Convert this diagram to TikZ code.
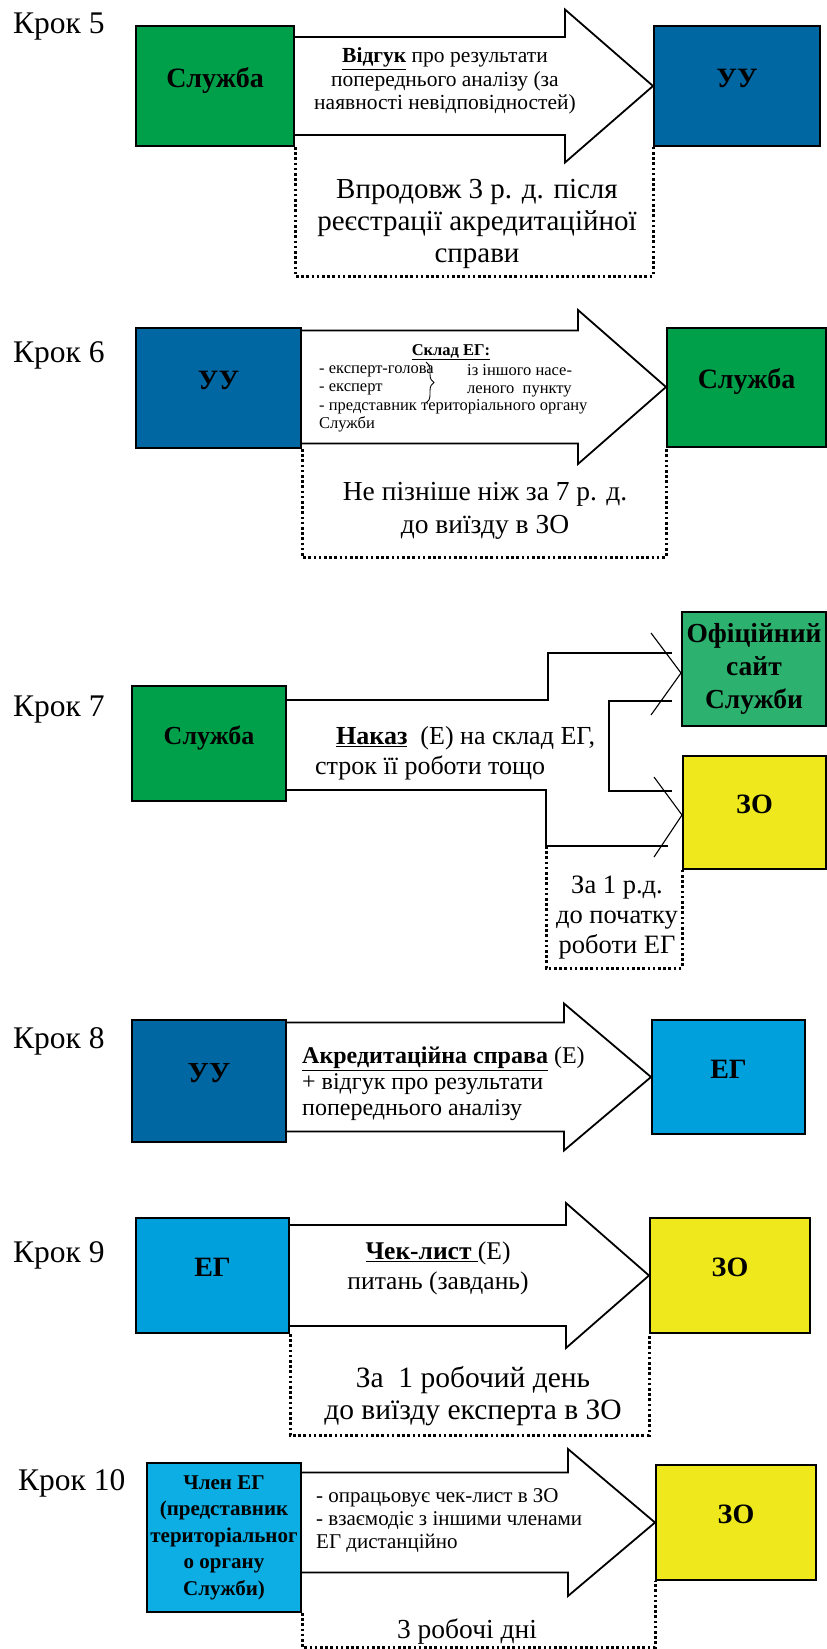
\documentclass[tikz,border=0pt]{standalone}
\usepackage{fontspec}
\setmainfont{Liberation Serif}
\usepackage{tikz}
\usetikzlibrary{calc,decorations.pathreplacing}

\definecolor{grn}{RGB}{0,160,75}
\definecolor{grnsite}{RGB}{44,178,110}
\definecolor{dblue}{RGB}{0,103,163}
\definecolor{lblue}{RGB}{0,160,221}
\definecolor{cblue}{RGB}{12,174,228}
\definecolor{yel}{RGB}{238,232,28}

\newcommand\fs[2]{\fontsize{#1}{#2}\selectfont}
\newcommand\bigarrow[5]{%
  \draw[arrowbody] ($(#1.east |- #2.west)+(0,-#3)$) -- ($(#2.west)+(-#5,-#3)$)
    -- ($(#2.west)+(-#5,-#4)$) -- (#2.west) -- ($(#2.west)+(-#5,#4)$)
    -- ($(#2.west)+(-#5,#3)$) -- ($(#1.east |- #2.west)+(0,#3)$);}

\begin{document}
\begin{tikzpicture}[x=1pt,y=-1pt,
  box/.style={draw=black,line width=2pt,font=\fs{28}{32}\bfseries},
  lbl/.style={text height=18pt,text depth=16pt},
  krok/.style={anchor=base west,inner sep=0pt,font=\fs{31.5}{36}},
  arrowbody/.style={draw=black,line width=1.8pt,line join=miter},
  thin/.style={draw=black,line width=1.1pt},
  dotline/.style={line width=3pt,dash pattern=on 2.6pt off 2.6pt},
  txt/.style={align=center,inner sep=0pt}]
  \useasboundingbox (0,0) rectangle (827,1649);

  \draw (13,33) node[krok] (k5) {Крок 5};
  \draw (215,86) node[box,lbl,fill=grn,minimum width=158pt,minimum height=120pt] (sl5) {Служба};
  \draw (737,86) node[box,lbl,fill=dblue,minimum width=166pt,minimum height=120pt] (uu5) {УУ};
  \bigarrow{sl5}{uu5}{49}{76.5}{88}
  \draw (445,81) node[txt,font=\fs{21.5}{23.5}] (t5) {\textbf{\underline{Відгук}} про результати\\попереднього аналізу (за\\наявності невідповідностей)};
  \coordinate (d5) at (0,276);
  \draw[dotline] (sl5.south east) -- (sl5.south east |- d5) -| (uu5.south west);
  \draw (477,224) node[txt,font=\fs{29}{32}] (w5) {Впродовж 3 р. д. після\\реєстрації акредитаційної\\справи};

  \draw (13,362) node[krok] (k6) {Крок 6};
  \draw (218.5,388) node[box,lbl,fill=dblue,minimum width=165pt,minimum height=120pt] (uu6) {УУ};
  \draw (746.5,387) node[box,lbl,fill=grn,minimum width=159pt,minimum height=119pt] (sl6) {Служба};
  \bigarrow{uu6}{sl6}{56.5}{77}{88}
  \draw (451,352) node[txt,font=\fs{16.5}{18.5}\bfseries] (sk6) {\underline{Склад ЕГ:}};
  \draw (319,399) node[txt,align=left,anchor=west,font=\fs{16.5}{18.5}] (ls6) {- експерт-голова\\- експерт\\- представник територіального органу\\Служби};
  \draw (467,381) node[txt,align=left,anchor=west,font=\fs{16.5}{18.5}] (np6) {із іншого насе-\\леного\ \ пункту};
  \draw[thin,line width=0.9pt,decorate,decoration={brace,amplitude=8pt}] (426,362) -- (426,403);
  \coordinate (d6) at (0,557);
  \draw[dotline] (uu6.south east) -- (uu6.south east |- d6) -| (sl6.south west);
  \draw (485,511) node[txt,font=\fs{27.5}{33}] (w6) {Не пізніше ніж за 7 р. д.\\до виїзду в ЗО};

  \draw (13,716) node[krok] (k7) {Крок 7};
  \draw (209,743.5) node[box,lbl,fill=grn,font=\fs{26}{30}\bfseries,minimum width=154pt,minimum height=115pt] (sl7) {Служба};
  \draw (754,669) node[box,fill=grnsite,align=center,inner sep=1pt,font=\fs{27.5}{33}\bfseries,minimum width=144pt,minimum height=114pt] (site) {Офіційний\\сайт\\Служби};
  \draw (754.5,812.5) node[box,lbl,fill=yel,minimum width=143pt,minimum height=113pt] (zo7) {ЗО};
  \coordinate (fl) at (546,846);
  \draw[thin] (sl7.east |- 0,700) -| (548,653) -- (672,653);
  \draw[thin] (672,701) -| (609,791) -- (672,791);
  \draw[thin] (sl7.east |- 0,790) -| (fl) -- (668,846);
  \draw[thin] (651,633) -- (site.west |- 0,673) -- (651,715);
  \draw[thin] (654,777) -- (zo7.west |- 0,815) -- (654,857);
  \draw (315,753) node[txt,align=left,anchor=west,font=\fs{26}{30}] (t7) {\hspace*{21pt}\textbf{\underline{Наказ}}\ \ (Е) на склад ЕГ,\\строк її роботи тощо};
  \coordinate (d7) at (0,968);
  \draw[dotline] (fl) -- (fl |- d7) -| (zo7.south west);
  \draw (617,918) node[txt,font=\fs{26.5}{30}] (w7) {За 1 р.д.\\до початку\\роботи ЕГ};

  \draw (13,1048) node[krok] (k8) {Крок 8};
  \draw (209,1081) node[box,lbl,fill=dblue,font=\fs{29}{32}\bfseries,minimum width=154pt,minimum height=122pt] (uu8) {УУ};
  \draw (728.5,1077) node[box,lbl,fill=lblue,minimum width=153pt,minimum height=114pt] (eg8) {ЕГ};
  \bigarrow{uu8}{eg8}{54.5}{73.5}{87}
  \draw (302,1084) node[txt,align=left,anchor=west,font=\fs{24}{26}] (t8) {\textbf{\underline{Акредитаційна справа}} (Е)\\+ відгук про результати\\попереднього аналізу};

  \draw (13,1262) node[krok] (k9) {Крок 9};
  \draw (212.5,1275.5) node[box,lbl,fill=lblue,minimum width=153pt,minimum height=115pt] (eg9) {ЕГ};
  \draw (730,1275.5) node[box,lbl,fill=yel,minimum width=160pt,minimum height=115pt] (zo9) {ЗО};
  \bigarrow{eg9}{zo9}{50.5}{72.5}{83}
  \draw (438,1268) node[txt,font=\fs{25.5}{30}] (t9) {\textbf{\underline{Чек-лист }}(Е)\\питань (завдань)};
  \coordinate (d9) at (0,1435);
  \draw[dotline] (eg9.south east) -- (eg9.south east |- d9) -| (zo9.south west);
  \draw (473,1396) node[txt,font=\fs{29.5}{32}] (w9) {За\ \ 1 робочий день\\до виїзду експерта в ЗО};

  \draw (18,1490) node[krok] (k10) {Крок 10};
  \draw (224,1537.5) node[box,fill=cblue,align=center,inner sep=1pt,font=\fs{21}{26.5}\bfseries,minimum width=154pt,minimum height=149pt] (ch10) {Член ЕГ\\(представник\\територіальног\\о органу\\Служби)};
  \draw (736,1522.5) node[box,lbl,fill=yel,minimum width=160pt,minimum height=115pt] (zo10) {ЗО};
  \bigarrow{ch10}{zo10}{50}{73.5}{87}
  \draw (316,1521) node[txt,align=left,anchor=west,font=\fs{21}{23}] (t10) {- опрацьовує чек-лист в ЗО\\- взаємодіє з іншими членами\\ЕГ дистанційно};
  \coordinate (d10) at (0,1647);
  \draw[dotline] (ch10.south east) -- (ch10.south east |- d10) -| (zo10.south west);
  \draw (467,1632) node[txt,font=\fs{27.5}{32}] (w10) {3 робочі дні};
\end{tikzpicture}
\end{document}
